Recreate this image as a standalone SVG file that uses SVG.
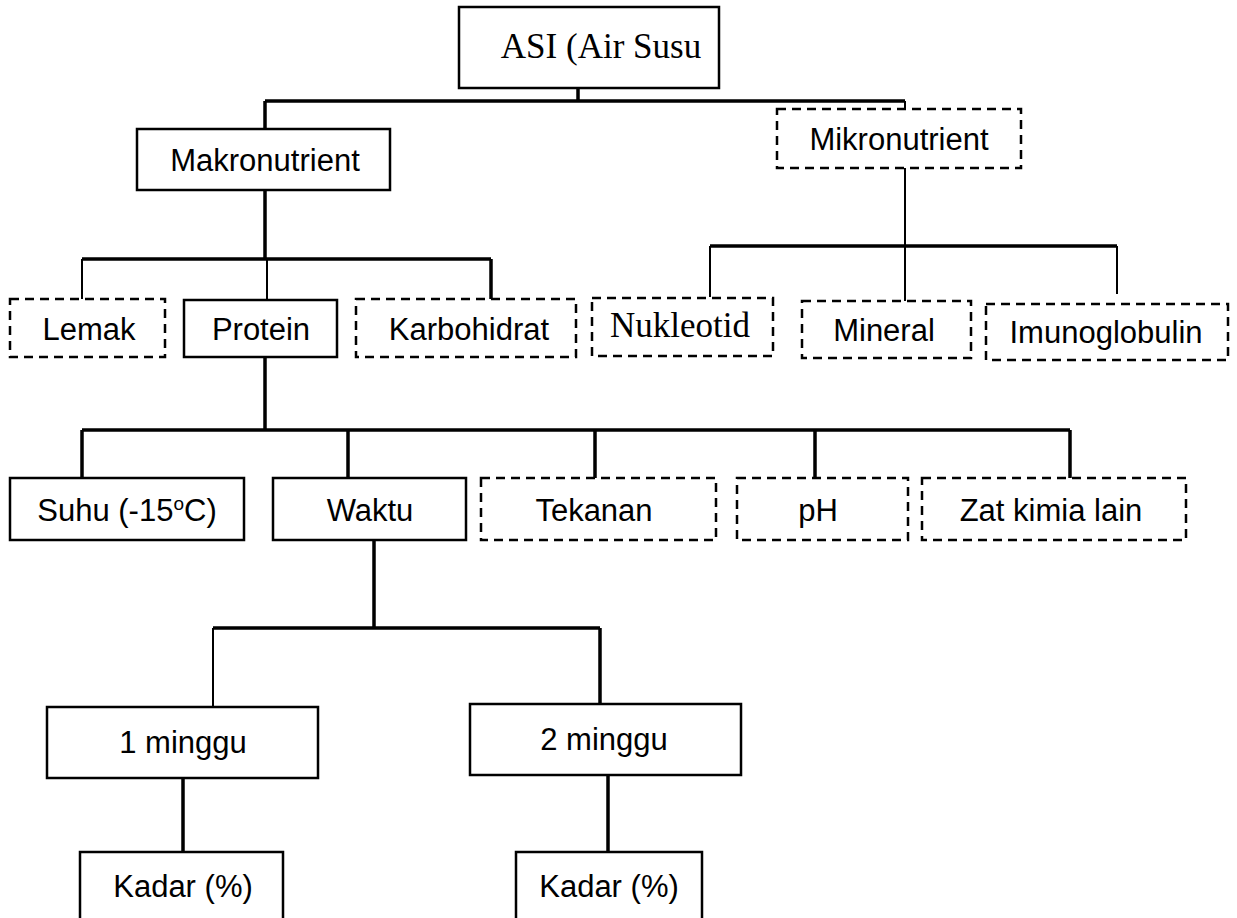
<svg xmlns="http://www.w3.org/2000/svg" width="1237" height="918" viewBox="0 0 1237 918">
<style>
.box{fill:#fff;stroke:#000;stroke-width:2.5}
.dash{fill:#fff;stroke:#000;stroke-width:2.5;stroke-dasharray:9 6}
.t{font-family:"Liberation Sans",Arial,sans-serif;font-size:31px;fill:#000;text-anchor:middle}
.s{font-family:"Liberation Serif","Times New Roman",serif;font-size:35px;fill:#000;text-anchor:middle}
.c{fill:none;stroke:#000;stroke-width:3.5}
.cn{fill:none;stroke:#000;stroke-width:2}
</style>
<rect width="1237" height="918" fill="#fff"/>
<g id="connectors">
<path class="c" d="M578 88V101M265 101H905M265 101V129"/>
<path class="cn" d="M905 101V129"/>
<path class="c" d="M265 190V259M82 259H491M491 259V299"/>
<path class="cn" d="M82 259V299M267 259V300"/>
<path class="cn" d="M905 168V246M710 246V297M905 246V301M1117 246V294"/>
<path class="c" d="M710 246H1117"/>
<path class="c" d="M265 357V430M82 430H1070M82 430V478M348 430V478M595 430V478M815 430V478M1070 430V478"/>
<path class="c" d="M374 540V628M213 628H600M600 628V705"/>
<path class="cn" d="M213 628V707"/>
<path class="c" d="M183 778V852M608 775V852"/>
</g>
<g id="asi"><rect class="box" x="459" y="7" width="260" height="81"/><text class="s" x="601" y="58">ASI (Air Susu</text></g>
<g id="makronutrient"><rect class="box" x="137" y="129" width="253" height="61"/><text class="t" x="265" y="171">Makronutrient</text></g>
<g id="mikronutrient"><rect class="dash" x="777" y="109" width="244" height="59"/><text class="t" x="899" y="150">Mikronutrient</text></g>
<g id="lemak"><rect class="dash" x="10" y="299" width="155" height="58"/><text class="t" x="89" y="340">Lemak</text></g>
<g id="protein"><rect class="box" x="184" y="300" width="153" height="57"/><text class="t" x="261" y="340">Protein</text></g>
<g id="karbohidrat"><rect class="dash" x="356" y="299" width="220" height="58"/><text class="t" x="469" y="340">Karbohidrat</text></g>
<g id="nukleotid"><rect class="dash" x="592" y="298" width="181" height="58"/><text class="s" x="680" y="337" font-size="34">Nukleotid</text></g>
<g id="mineral"><rect class="dash" x="802" y="301" width="169" height="57"/><text class="t" x="884" y="341">Mineral</text></g>
<g id="imunoglobulin"><rect class="dash" x="986" y="304" width="242" height="56"/><text class="t" x="1106" y="343" font-size="32">Imunoglobulin</text></g>
<g id="suhu"><rect class="box" x="10" y="478" width="234" height="62"/><text class="t" x="127" y="521">Suhu (-15<tspan font-size="19" dy="-11">o</tspan><tspan dy="11">C)</tspan></text></g>
<g id="waktu"><rect class="box" x="273" y="478" width="193" height="62"/><text class="t" x="370" y="521">Waktu</text></g>
<g id="tekanan"><rect class="dash" x="481" y="478" width="235" height="62"/><text class="t" x="594" y="521">Tekanan</text></g>
<g id="ph"><rect class="dash" x="737" y="478" width="171" height="62"/><text class="t" x="818" y="521">pH</text></g>
<g id="zat"><rect class="dash" x="922" y="478" width="264" height="62"/><text class="t" x="1051" y="521">Zat kimia lain</text></g>
<g id="minggu1"><rect class="box" x="47" y="707" width="271" height="71"/><text class="t" x="183" y="753">1 minggu</text></g>
<g id="minggu2"><rect class="box" x="470" y="704" width="271" height="71"/><text class="t" x="604" y="750">2 minggu</text></g>
<g id="kadar1"><path class="box" d="M80 920V852H283V920"/><text class="t" x="183" y="897">Kadar (%)</text></g>
<g id="kadar2"><path class="box" d="M516 920V852H702V920"/><text class="t" x="609" y="897">Kadar (%)</text></g>
</svg>
